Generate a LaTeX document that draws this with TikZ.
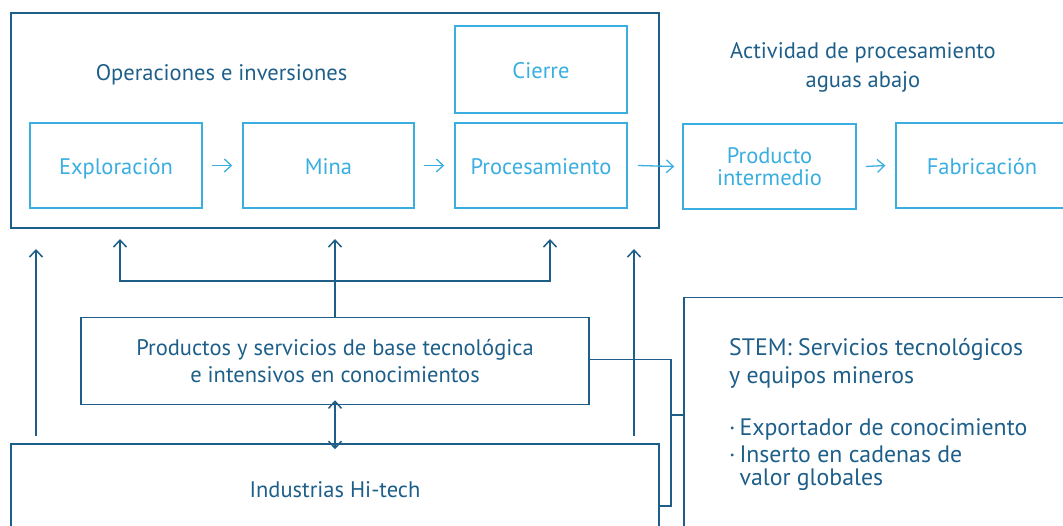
\documentclass[tikz,border=0pt]{standalone}
\usepackage{fontspec}
\setmainfont{PT Sans}
\usetikzlibrary{arrows.meta}
\definecolor{dk}{HTML}{1E5F8A}
\definecolor{lt}{HTML}{3AAEE0}
\begin{document}
\begin{tikzpicture}[x=1pt,y=-1pt,
  every node/.style={inner sep=0pt, font=\fontsize{22.5}{27}\selectfont},
  one/.style={text height=18pt, text depth=0pt},
  lbox/.style={draw=lt, line width=1.5pt, text=lt, align=center},
  dbox/.style={draw=dk, line width=1.5pt, text=dk, align=center},
  dtext/.style={text=dk, align=center},
  flow/.style={draw=lt, line width=1.3pt, -{Straight Barb[length=7pt,width=13pt]}},
  link/.style={draw=dk, line width=1.5pt},
  uarr/.style={link, -{Straight Barb[length=7pt,width=13pt]}}
]
\useasboundingbox (0,0) rectangle (1063,526);
% outer box
\node[dbox, minimum width=648pt, minimum height=215pt] (ops) at (335,120.5) {};
\node[dtext, one] (opstxt) at (221.5,72) {Operaciones e inversiones};
\node[lbox, one, minimum width=172pt, minimum height=87pt] (cierre) at (541,69.5) {Cierre};
\node[lbox, one, minimum width=172pt, minimum height=85pt] (expl) at (116,165.5) {Exploración};
\node[lbox, one, minimum width=171pt, minimum height=85pt] (mina) at (328.5,165.5) {Mina};
\node[lbox, one, minimum width=172pt, minimum height=85pt] (proc) at (541,165.5) {Procesamiento};
\node[lbox, minimum width=173pt, minimum height=85pt] (prod) at (769.5,166.5) {Producto\\[-5pt]intermedio};
\node[lbox, one, minimum width=172pt, minimum height=85pt] (fab) at (982,165.5) {Fabricación};
\node[dtext] (act) at (863,67) {Actividad de procesamiento\\[2pt]aguas abajo};
% flow arrows
\draw[flow] ([xshift=9pt]expl.east) -- ([xshift=-10pt]mina.west);
\draw[flow] ([xshift=9pt]mina.east) -- ([xshift=-10pt]proc.west);
\draw[flow] ([xshift=10pt]proc.east) -- ([xshift=-8pt]prod.west);
\draw[flow] ([xshift=9pt]prod.east) -- ([xshift=-10pt]fab.west);
% lower boxes
\node[dbox, minimum width=508pt, minimum height=87pt] (pys) at (335,361) {Productos y servicios de base tecnológica\\e intensivos en conocimientos};
\node[dbox, one, minimum width=648pt, minimum height=88pt] (ind) at (335,488) {Industrias Hi-tech};
\node[draw=dk, line width=1.5pt, minimum width=420pt, minimum height=300pt, anchor=north west] (stem) at (683,297) {};
\node[dtext, align=left, anchor=north west, font=\fontsize{23.8}{27}\selectfont] (stemtxt) at (729,338)
  {STEM: Servicios tecnológicos\\[1pt]y equipos mineros\\[25pt]
   ·\,Exportador de conocimiento\\·\,Inserto en cadenas de\\[-4pt]\phantom{·\,}valor globales};
% coordinates
\coordinate (bl) at (120,281);
\coordinate (br) at (550,281);
\coordinate (bm) at (335,281);
\coordinate (tl) at (120,239);
\coordinate (tm) at (335,239);
\coordinate (tr) at (550,239);
\coordinate (la0) at (36,436);
\coordinate (la1) at (36,249);
\coordinate (ra0) at (634,436);
\coordinate (ra1) at (634,249);
\coordinate (j1) at (671,359.5);
\coordinate (j2) at (671,506);
\coordinate (j3) at (671,415);
% connectors
\draw[link] (pys.north) -- (bm);
\draw[uarr] (bm) -- (tm);
\draw[uarr] (bm) -- (bl) -- (tl);
\draw[uarr] (bm) -- (br) -- (tr);
\draw[uarr] (la0) -- (la1);
\draw[uarr] (ra0) -- (ra1);
\draw[link, {Straight Barb[length=7pt,width=13pt]}-{Straight Barb[length=7pt,width=13pt]}] ([yshift=5pt]pys.south) -- ([yshift=-6pt]ind.north);
\draw[link] (pys.east |- j1) -- (j1) -- (j2) -- (j2 -| ind.east);
\draw[link] (j3) -- (j3 -| stem.west);
\end{tikzpicture}
\end{document}
